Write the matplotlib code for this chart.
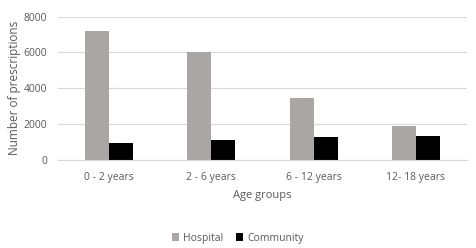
import matplotlib.pyplot as plt
import numpy as np

# Data
ageGroups = ['0 - 2 years', '2 - 6 years', '6 - 12 years', '12- 18 years']
hospital = [7200, 6000, 3460, 1900]
community = [970, 1120, 1300, 1360]

textColor = '#595959'
plt.rcParams['font.family'] = ['Open Sans', 'DejaVu Sans']

fig = plt.figure(figsize=(4.76, 2.48), dpi=100)
ax = fig.add_axes([0.122, 0.355, 0.859, 0.578])

x = np.arange(len(ageGroups))
barWidth = 0.235
ax.bar(x - barWidth / 2, hospital, barWidth, color='#A9A6A5', label='Hospital', zorder=2)
ax.bar(x + barWidth / 2, community, barWidth, color='black', label='Community', zorder=2)

ax.set_xlim(-0.5, len(ageGroups) - 0.5)
ax.set_ylim(0, 8000)
ax.set_yticks([0, 2000, 4000, 6000, 8000])
ax.set_xticks(x)
ax.set_xticklabels(ageGroups)
ax.yaxis.grid(True, color='#D9D9D9', linewidth=0.8, zorder=0)
ax.tick_params(axis='both', length=0, labelsize=7.5, colors=textColor)
ax.tick_params(axis='x', pad=9)
ax.tick_params(axis='y', pad=8)

for side in ['top', 'right', 'left']:
    ax.spines[side].set_visible(False)
ax.spines['bottom'].set_color('#D9D9D9')

ax.set_xlabel('Age groups', fontsize=8, color=textColor, labelpad=5)
ax.set_ylabel('Number of prescriptions', fontsize=8.5, color=textColor, labelpad=2)

fig.legend(loc='center', bbox_to_anchor=(0.5, 0.04), ncol=2, frameon=False,
           fontsize=7.5, labelcolor=textColor, handlelength=0.7, handleheight=0.7,
           handletextpad=0.4, columnspacing=1.2)

fig.savefig('out.png', dpi=100)
